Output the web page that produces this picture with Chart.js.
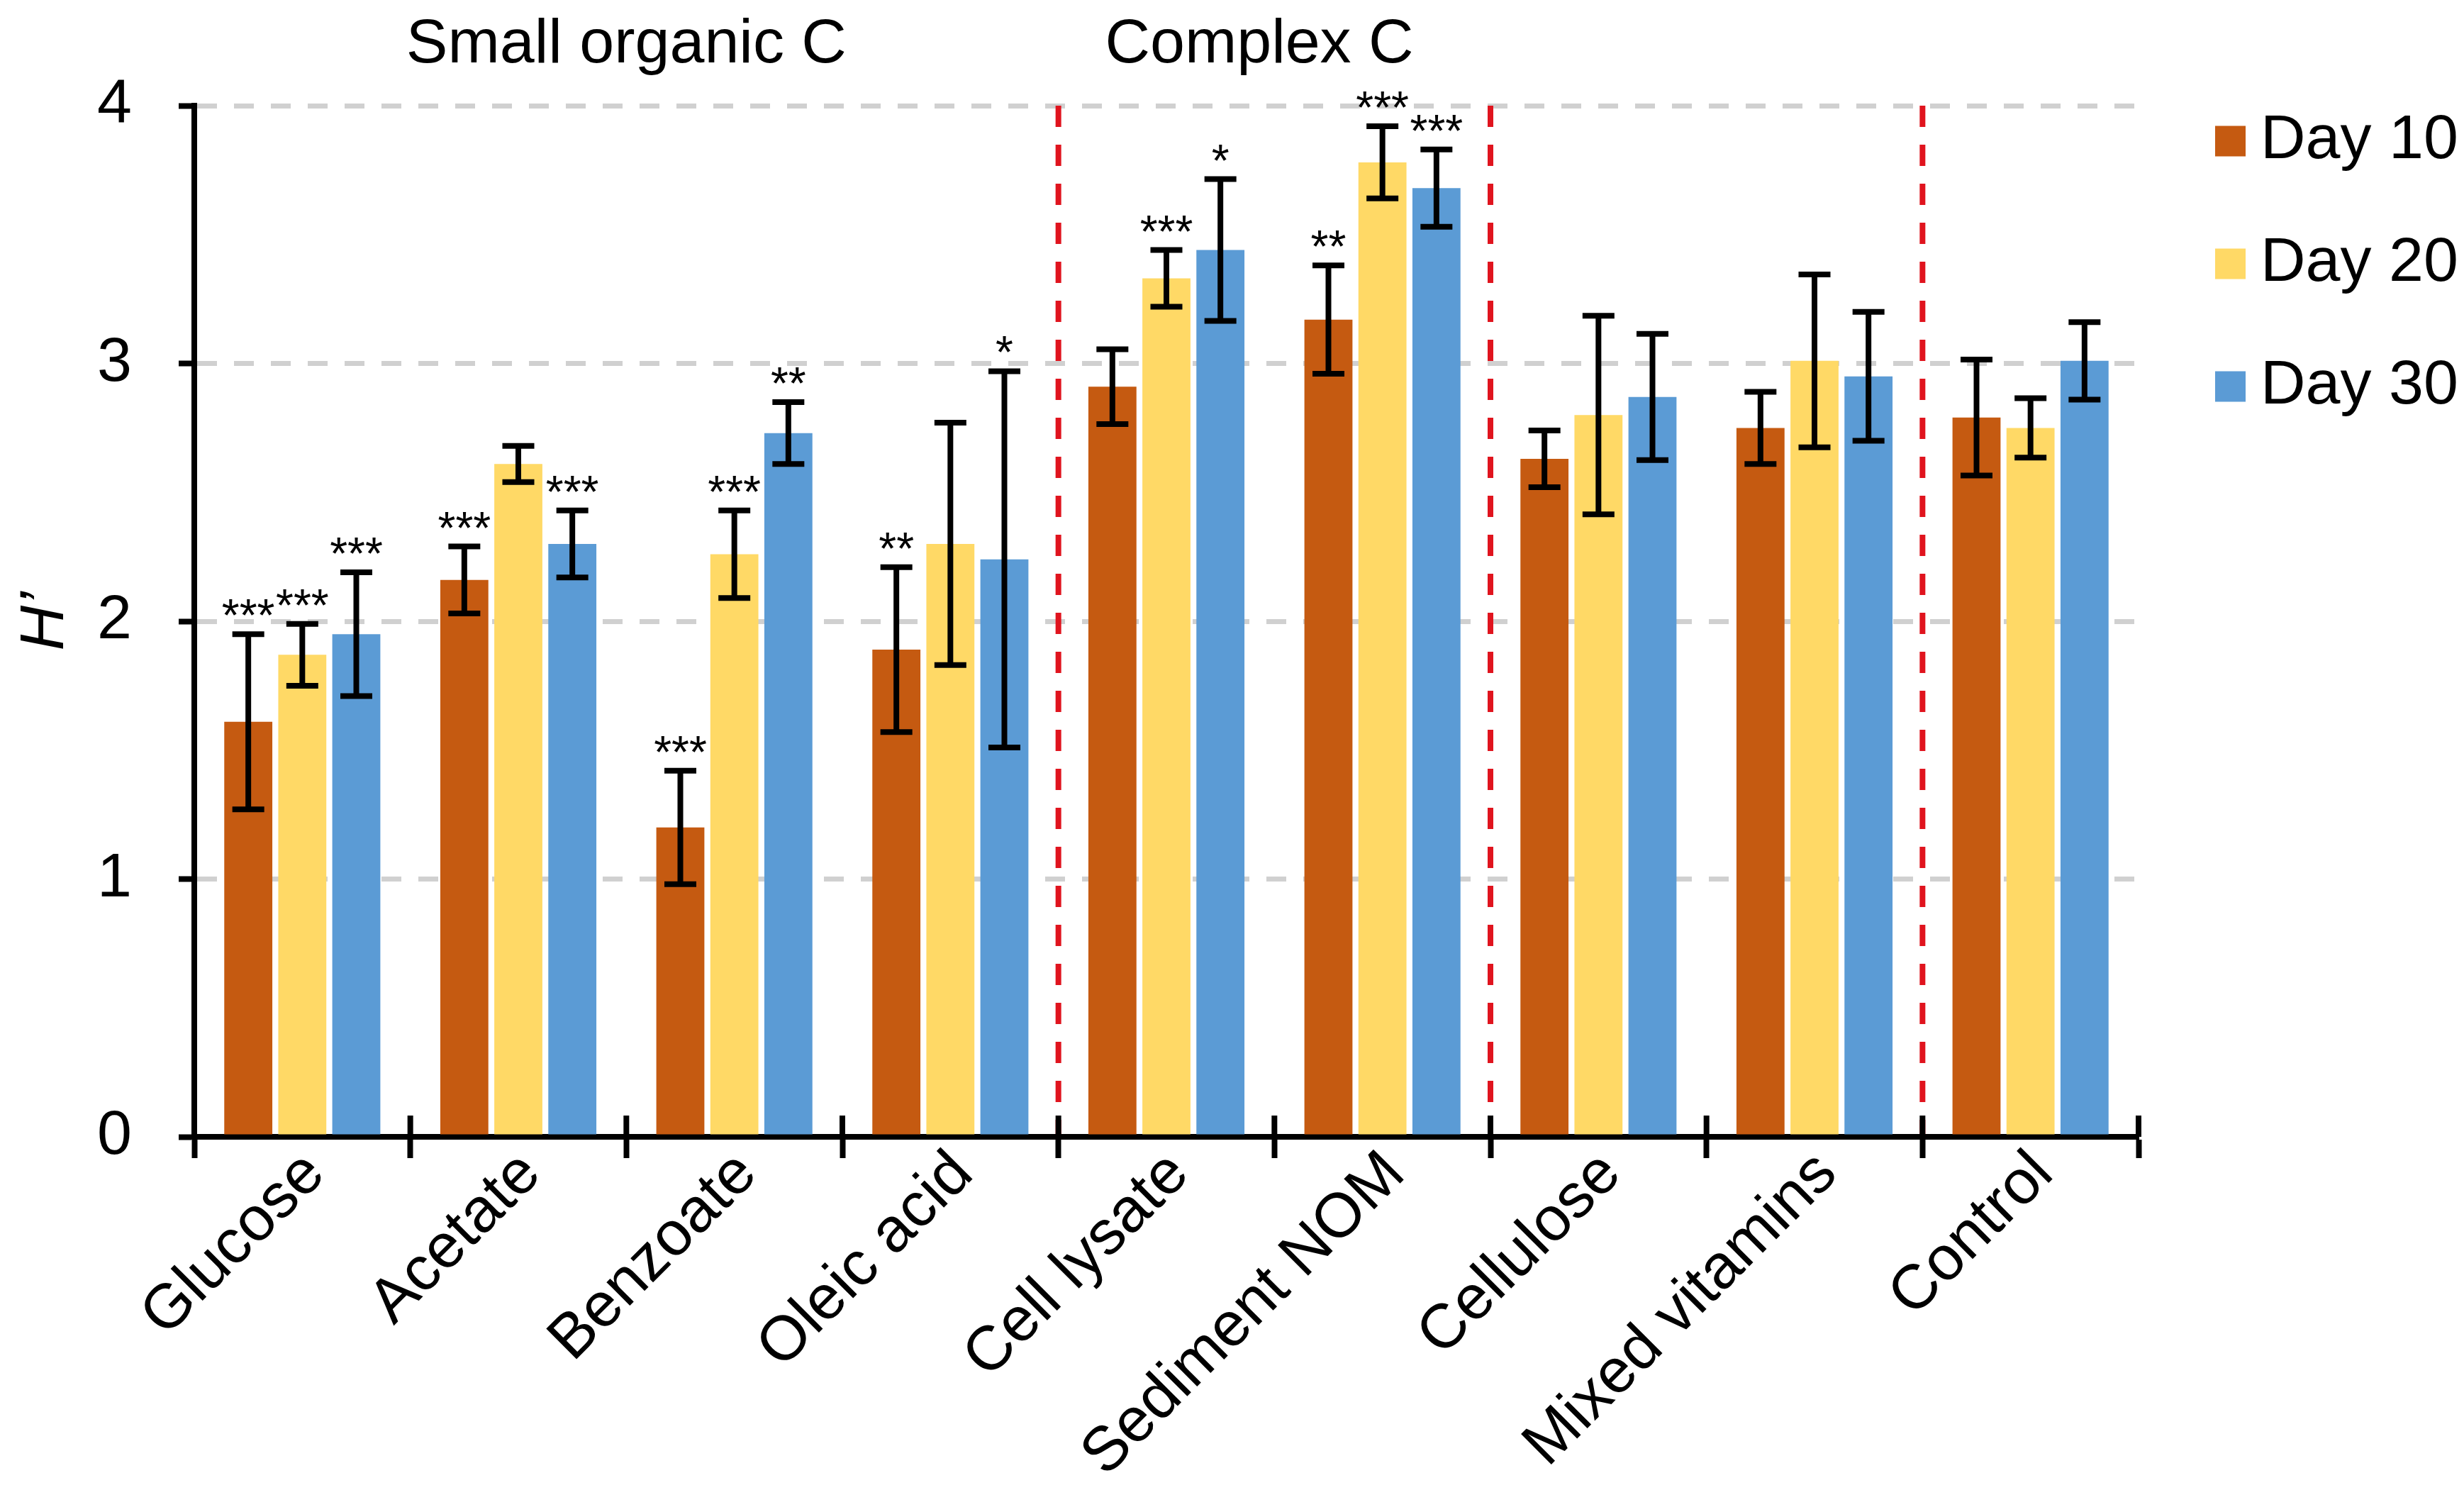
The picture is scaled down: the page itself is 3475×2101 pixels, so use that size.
<!DOCTYPE html>
<html>
<head>
<meta charset="utf-8">
<script src="https://cdn.jsdelivr.net/npm/chart.js@4.4.0/dist/chart.umd.min.js"></script>
<style>
  html, body { margin: 0; padding: 0; background: #ffffff; }
  canvas { display: block; }
</style>
</head>
<body>
<canvas id="diversity-chart" width="3475" height="2101"></canvas>
<script>
/* =================================================================
                      [ Shannon diversity H' ]
==================================================================*/
// categories / tick labels
var categories = ['Glucose', 'Acetate', 'Benzoate', 'Oleic acid', 'Cell lysate', 'Sediment NOM', 'Cellulose', 'Mixed vitamins', 'Control'];
var seriesNames = ['Day 10', 'Day 20', 'Day 30'];
var yTicks = [0, 1, 2, 3, 4];

// bar heights
var day10 = [1.61, 2.16, 1.20, 1.89, 2.91, 3.17, 2.63, 2.75, 2.79];
var day20 = [1.87, 2.61, 2.26, 2.30, 3.33, 3.78, 2.80, 3.01, 2.75];
var day30 = [1.95, 2.30, 2.73, 2.24, 3.44, 3.68, 2.87, 2.95, 3.01];

// error bars (+/-)
var err10 = [0.34, 0.13, 0.22, 0.32, 0.145, 0.21, 0.11, 0.14, 0.225];
var err20 = [0.12, 0.07, 0.17, 0.47, 0.11, 0.14, 0.385, 0.335, 0.115];
var err30 = [0.24, 0.13, 0.12, 0.73, 0.275, 0.15, 0.245, 0.25, 0.15];

// significance marks
var stars10 = ['***', '***', '***', '**', '', '**', '', '', ''];
var stars20 = ['***', '', '***', '', '***', '***', '', '', ''];
var stars30 = ['***', '***', '**', '*', '*', '***', '', '', ''];

// group headings and separators (red dashed lines after these category indexes)
var groupTitles = ['Small organic C', 'Complex C'];
var groupCenters = [1.5, 4.43];
var separatorsAfter = [3, 5, 7];

var FONT = "'Liberation Sans', Arial, sans-serif";
Chart.defaults.font.family = FONT;
Chart.defaults.color = '#000';

var chartEl = document.getElementById('diversity-chart');

var errors = [err10, err20, err30];
var stars = [stars10, stars20, stars30];

// extra drawing: separators, error bars, stars, ticks, headings, legend
var annotatePlugin = {
  id: 'annotate',
  beforeDatasetsDraw: function (chart) {
    var ctx = chart.ctx, area = chart.chartArea, x = chart.scales.x;
    ctx.save();
    ctx.strokeStyle = '#e0141e';
    ctx.lineWidth = 8;
    ctx.setLineDash([30, 25]);
    separatorsAfter.forEach(function (i) {
      var px = x.getPixelForValue(i + 0.5);
      ctx.beginPath();
      ctx.moveTo(px, area.top);
      ctx.lineTo(px, area.bottom - 4);
      ctx.stroke();
    });
    ctx.restore();
  },
  afterDatasetsDraw: function (chart) {
    var ctx = chart.ctx, y = chart.scales.y;
    ctx.save();
    ctx.strokeStyle = '#000';
    ctx.fillStyle = '#000';
    ctx.lineWidth = 8;
    ctx.font = '64px ' + FONT;
    ctx.textAlign = 'center';
    ctx.textBaseline = 'alphabetic';
    chart.data.datasets.forEach(function (ds, d) {
      var meta = chart.getDatasetMeta(d);
      meta.data.forEach(function (bar, i) {
        var v = ds.data[i], e = errors[d][i];
        var top = y.getPixelForValue(v + e), bot = y.getPixelForValue(v - e);
        ctx.beginPath();
        ctx.moveTo(bar.x, top);
        ctx.lineTo(bar.x, bot);
        ctx.moveTo(bar.x - 22.5, top);
        ctx.lineTo(bar.x + 22.5, top);
        ctx.moveTo(bar.x - 22.5, bot);
        ctx.lineTo(bar.x + 22.5, bot);
        ctx.stroke();
        if (stars[d][i]) ctx.fillText(stars[d][i], bar.x, top - 4);
      });
    });
    ctx.restore();
  },
  afterDraw: function (chart) {
    var ctx = chart.ctx, area = chart.chartArea, x = chart.scales.x;
    ctx.save();
    // inner half of the category ticks
    ctx.strokeStyle = '#000';
    ctx.lineWidth = 8;
    for (var i = 0; i <= categories.length; i++) {
      var px = x.getPixelForValue(i - 0.5);
      ctx.beginPath();
      ctx.moveTo(px, area.bottom);
      ctx.lineTo(px, area.bottom - 30);
      ctx.stroke();
    }
    // group headings
    ctx.fillStyle = '#000';
    ctx.font = '88px ' + FONT;
    ctx.textAlign = 'center';
    ctx.textBaseline = 'alphabetic';
    groupTitles.forEach(function (t, k) {
      ctx.fillText(t, x.getPixelForValue(groupCenters[k]), 88);
    });
    // legend
    ctx.textAlign = 'left';
    ctx.textBaseline = 'middle';
    chart.data.datasets.forEach(function (ds, d) {
      var cy = 199 + d * 173;
      ctx.fillStyle = ds.backgroundColor;
      ctx.fillRect(3124, cy - 21.5, 43, 43);
      ctx.fillStyle = '#000';
      ctx.fillText(ds.label, 3188, cy);
    });
    ctx.restore();
  }
};

// chart data
var chartData = {
  labels: categories,
  datasets: [{
    label: seriesNames[0],
    data: day10,
    backgroundColor: '#C55A11'
  }, {
    label: seriesNames[1],
    data: day20,
    backgroundColor: '#FFD966'
  }, {
    label: seriesNames[2],
    data: day30,
    backgroundColor: '#5B9BD5'
  }]
};

// chart options
var chartOptions = {
  responsive: false,
  animation: false,
  devicePixelRatio: 1,
  datasets: {
    bar: { categoryPercentage: 0.75, barPercentage: 0.89, borderWidth: 0 }
  },
  layout: { padding: { top: 149, right: 459, left: 0, bottom: 0 } },
  plugins: {
    legend: { display: false },
    tooltip: { enabled: false }
  },
  scales: {
    x: {
      grid: { display: true, drawOnChartArea: false, drawTicks: true, tickLength: 30, tickWidth: 8, tickColor: '#000', offset: true },
      border: { display: true, color: '#000', width: 8 },
      ticks: { color: '#000', font: { size: 88 }, minRotation: 45, maxRotation: 45, autoSkip: false, padding: -29, labelOffset: 18 },
      afterFit: function (scale) { scale.height = 498; }
    },
    y: {
      min: yTicks[0],
      max: yTicks[yTicks.length - 1],
      afterBuildTicks: function (scale) { scale.ticks = yTicks.map(function (v) { return { value: v }; }); },
      ticks: { color: '#000', font: { size: 88 }, padding: 66 },
      grid: { color: '#d0d0d0', lineWidth: 7, tickColor: '#000', tickWidth: 8, tickLength: 22 },
      border: { display: true, color: '#000', width: 8, dash: [28, 24] },
      title: { display: true, text: 'H\u2019', color: '#000', font: { size: 88, style: 'italic' }, padding: { top: 12, bottom: 0 } },
      afterFit: function (scale) { scale.width = 274; }
    }
  }
};

// Initialize Chart
new Chart(chartEl, {
  type: 'bar',
  data: chartData,
  options: chartOptions,
  plugins: [annotatePlugin]
});
</script>
</body>
</html>
